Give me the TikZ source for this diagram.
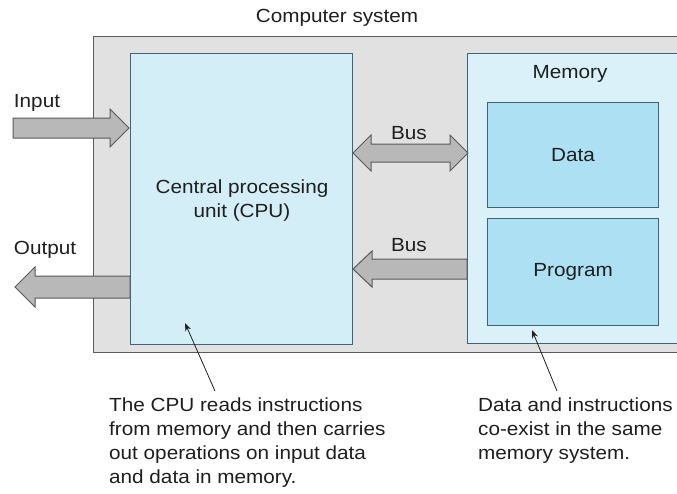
\documentclass[tikz,border=0pt]{standalone}
\usepackage{fontspec}
\setmainfont{Liberation Sans}[FakeStretch=1.09]
\usetikzlibrary{arrows.meta}
\definecolor{sysgray}{HTML}{E1E1E1}
\definecolor{edgegray}{HTML}{5A5A5A}
\definecolor{cpublue}{HTML}{D4EEF8}
\definecolor{memblue}{HTML}{DAF1FA}
\definecolor{boxblue}{HTML}{AEE0F4}
\definecolor{boxedge}{HTML}{3F6579}
\definecolor{arrowgray}{HTML}{B8B8B8}
\definecolor{txt}{HTML}{1E1E1E}
\tikzset{
  lbl/.style={font=\fontsize{19}{24}\selectfont, text=txt, inner sep=0pt},
  panel/.style={draw=edgegray, line width=1.2pt, inner sep=0pt},
  fat/.style={draw=edgegray, fill=arrowgray, line width=1pt, line join=miter},
  pointer/.style={draw=txt, line width=0.8pt, -{Stealth[length=8pt,width=6pt]}},
  para/.style={lbl, align=left, anchor=north west}
}
\begin{document}
\begin{tikzpicture}[x=1pt,y=-1pt]
\useasboundingbox (0,0) rectangle (677,493);
\fill[white] (0,0) rectangle (677,493);
% outer system box
\node[panel, fill=sysgray, minimum width=607pt, minimum height=316pt, anchor=north west] (sys) at (93,36) {};
\node[lbl] (systitle) at (337,18) {Computer system};
% CPU
\node[panel, draw=boxedge, fill=cpublue, minimum width=222pt, minimum height=291pt, anchor=north west] (cpu) at (130,53) {};
\node[lbl, align=center] (cputext) at (242,201) {Central processing\\unit (CPU)};
% Memory
\node[panel, draw=boxedge, fill=memblue, minimum width=233pt, minimum height=290pt, anchor=north west] (mem) at (467,53) {};
\node[lbl] (memtitle) at (570,74) {Memory};
\node[panel, draw=boxedge, fill=boxblue, minimum width=171pt, minimum height=105pt, anchor=north west] (data) at (487,102) {};
\node[lbl] at (data.center) {Data};
\node[panel, draw=boxedge, fill=boxblue, minimum width=171pt, minimum height=107pt, anchor=north west] (prog) at (487,218) {};
\node[lbl] at (prog.center) {Program};
% Input arrow
\draw[fat] (13,118) -- (110,118) -- (110,109) -- (129,128) -- (110,147) -- (110,138) -- (13,138) -- cycle;
\node[lbl] (inlbl) at (37,103) {Input};
% Output arrow
\draw[fat] (130,276) -- (35,276) -- (35,267) -- (15,287) -- (35,307) -- (35,298) -- (130,298) -- cycle;
\node[lbl] (outlbl) at (45,250) {Output};
% Bus double arrow
\draw[fat] (371,144) -- (450,144) -- (450,135) -- (468,153) -- (450,171) -- (450,162) -- (371,162) -- (371,171) -- (353,153) -- (371,135) -- cycle;
\node[lbl] (bus1) at (409,133) {Bus};
% Bus single arrow
\draw[fat] (467,259) -- (372,259) -- (372,251) -- (353,269) -- (372,287) -- (372,279) -- (467,279) -- cycle;
\node[lbl] (bus2) at (409,245) {Bus};
% annotations
\node[para] (note1) at (109,398) {The CPU reads instructions\\from memory and then carries\\out operations on input data\\and data in memory.};
\node[para] (note2) at (478,398) {Data and instructions\\co-exist in the same\\memory system.};
\coordinate (p1a) at (215,391);
\coordinate (p1b) at (185,323);
\coordinate (p2a) at (557,391);
\coordinate (p2b) at (532,330);
\draw[pointer] (p1a) -- (p1b);
\draw[pointer] (p2a) -- (p2b);
\end{tikzpicture}
\end{document}
